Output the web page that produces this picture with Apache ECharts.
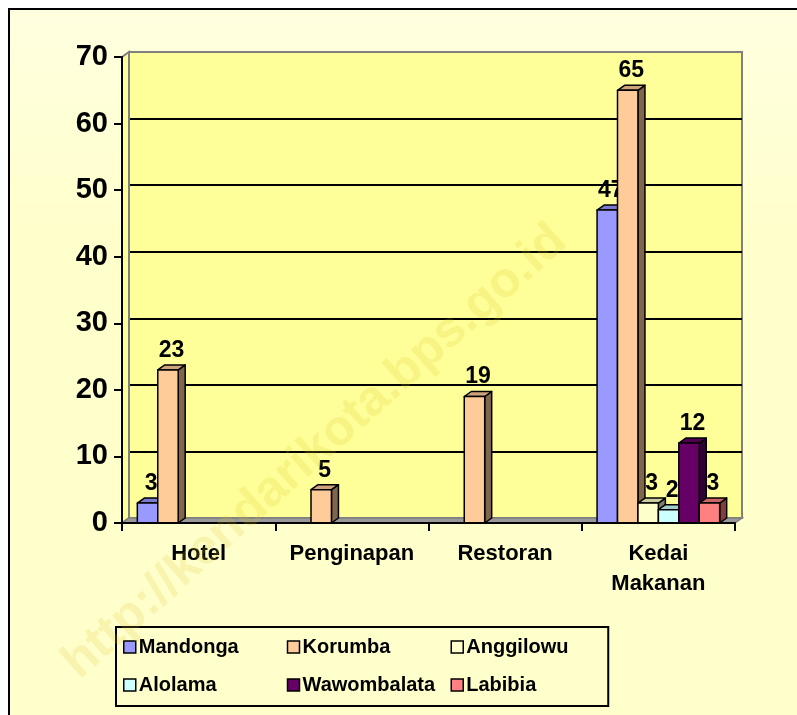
<!DOCTYPE html>
<html>
<head>
<meta charset="utf-8">
<script src="https://cdn.jsdelivr.net/npm/echarts@6/dist/echarts.min.js"></script>
<style>
  html, body { margin: 0; padding: 0; background: #fff; }
  .frame {
    position: absolute; left: 8px; top: 8px; width: 820px; height: 740px;
    border: 2px solid #000;
    background: linear-gradient(#FFFFE0, #FFFFCC 30%);
  }
  #chart { position: absolute; left: 0; top: 0; width: 797px; height: 715px; }
</style>
</head>
<body>
<div class="frame"></div>
<div id="chart"></div>
<script>
// data
var categories = ['Hotel', 'Penginapan', 'Restoran', 'Kedai\nMakanan'];
var seriesNames = ['Mandonga', 'Korumba', 'Anggilowu', 'Alolama', 'Wawombalata', 'Labibia'];
var mandonga    = [3, 0, 0, 47];
var korumba     = [23, 5, 19, 65];
var anggilowu   = [0, 0, 0, 3];
var alolama     = [0, 0, 0, 2];
var wawombalata = [0, 0, 0, 12];
var labibia     = [0, 0, 0, 3];
var yTicks = [0, 10, 20, 30, 40, 50, 60, 70];

var seriesValues = [mandonga, korumba, anggilowu, alolama, wawombalata, labibia];
var colors = ['#9999FF', '#FFCC99', '#FFFFCC', '#CCFFFF', '#660066', '#FF8080'];

var DX = 7, DY = 5;   // fake depth
var FONT = '"Liberation Sans", Arial, sans-serif';

function shade(hex, k) {
  var n = parseInt(hex.slice(1), 16);
  var r = Math.round(((n >> 16) & 255) * k);
  var g = Math.round(((n >> 8) & 255) * k);
  var b = Math.round((n & 255) * k);
  return 'rgb(' + r + ',' + g + ',' + b + ')';
}

// 3d-ish bar, drawn from the axis scales
function makeBar(idx) {
  return function (params, api) {
    var val = api.value(1);
    if (!val) return;
    var base = api.coord([api.value(0), 0]);
    var top = api.coord([api.value(0), val]);
    var catW = api.size([1, 0])[0];
    var bw = catW * 0.8 / seriesNames.length;
    var x = base[0] - catW * 0.4 + idx * bw;
    var y0 = base[1], y1 = top[1];
    var c = colors[idx];
    var line = { stroke: '#000', lineWidth: 1.5, lineJoin: 'round' };
    return {
      type: 'group',
      children: [
        { type: 'polygon', shape: { points: [[x + bw, y1], [x + bw + DX, y1 - DY], [x + bw + DX, y0 - DY], [x + bw, y0]] },
          style: Object.assign({ fill: shade(c, 0.5) }, line) },
        { type: 'polygon', shape: { points: [[x, y1], [x + DX, y1 - DY], [x + bw + DX, y1 - DY], [x + bw, y1]] },
          style: Object.assign({ fill: shade(c, 0.8) }, line) },
        { type: 'rect', shape: { x: x, y: y1, width: bw, height: y0 - y1 },
          style: Object.assign({ fill: c }, line) },
        { type: 'text', x: x + bw / 2 + DX / 2, y: y1 - DY - 3,
          style: { text: String(val), fill: '#000', font: 'bold 23px ' + FONT, align: 'center', verticalAlign: 'bottom' } }
      ]
    };
  };
}

// floor and left wall
function renderWalls(params, api) {
  var cs = params.coordSys;
  var x = cs.x, y = cs.y, w = cs.width, h = cs.height;
  return {
    type: 'group',
    children: [
      { type: 'polygon', shape: { points: [[x, y], [x + DX, y - DY], [x + DX, y + h - DY], [x, y + h]] },
        style: { fill: '#FFFF99', stroke: '#808080', lineWidth: 2 } },
      { type: 'polygon', shape: { points: [[x, y + h], [x + DX, y + h - DY], [x + w + DX, y + h - DY], [x + w, y + h]] },
        style: { fill: '#999999', stroke: '#808080', lineWidth: 1.5 } }
    ]
  };
}

var series = [{
  type: 'custom', name: 'walls', xAxisIndex: 0, yAxisIndex: 0, silent: true, z: 1,
  renderItem: renderWalls, data: [[0, 0]]
}];
seriesNames.forEach(function (name, i) {
  series.push({
    type: 'custom', name: name, xAxisIndex: 0, yAxisIndex: 0, z: 3,
    itemStyle: { color: colors[i] },
    encode: { x: 0, y: 1 },
    renderItem: makeBar(i),
    data: seriesValues[i].map(function (v, c) { return [c, v]; })
  });
});

var myChart = echarts.init(document.getElementById('chart'));
myChart.setOption({
  backgroundColor: 'transparent',
  animation: false,
  textStyle: { fontFamily: FONT },
  graphic: [{
    type: 'text', x: 315, y: 452, rotation: Math.PI * 41.7 / 180, z: 100, silent: true,
    style: { text: 'http://kendarikota.bps.go.id', font: 'bold 50px ' + FONT,
             fill: 'rgba(215,195,40,0.18)', align: 'center', verticalAlign: 'middle' }
  }],
  legend: {
    data: seriesNames,
    left: 116, top: 627, width: 500,
    orient: 'horizontal',
    padding: [6, 4, 7, 7],
    borderColor: '#000', borderWidth: 2,
    itemWidth: 12, itemHeight: 12, itemGap: 10,
    icon: 'rect',
    itemStyle: { borderColor: '#000', borderWidth: 1.5 },
    textStyle: { fontSize: 20, fontWeight: 'bold', color: '#000', width: 138, lineHeight: 28, padding: [0, 0, 0, -2] }
  },
  grid: [
    { left: 122, top: 57, right: 62, bottom: 192 },
    { left: 129, top: 52, right: 55, bottom: 197, show: true, backgroundColor: '#FFFF99', borderColor: '#808080', borderWidth: 2, z: 0 }
  ],
  xAxis: [
    { type: 'category', gridIndex: 0, data: categories, boundaryGap: true, z: 5,
      axisLine: { lineStyle: { color: '#000', width: 2 } },
      axisTick: { show: true, length: 8, alignWithLabel: false, lineStyle: { color: '#000', width: 2 } },
      axisLabel: { color: '#000', fontSize: 22, fontWeight: 'bold', margin: 16, lineHeight: 30, interval: 0 } },
    { type: 'category', gridIndex: 1, data: categories, show: false }
  ],
  yAxis: [
    { type: 'value', gridIndex: 0, min: 0, max: 70, interval: 10, z: 5,
      axisLine: { show: true, lineStyle: { color: '#000', width: 2 } },
      axisTick: { show: true, length: 8, lineStyle: { color: '#000', width: 2 } },
      splitLine: { show: false },
      axisLabel: { color: '#000', fontSize: 29, fontWeight: 'bold', margin: 14,
        formatter: function (v) { return yTicks.indexOf(v) >= 0 ? String(v) : ''; } } },
    { type: 'value', gridIndex: 1, min: 0, max: 70, interval: 10,
      axisLine: { show: false }, axisTick: { show: false }, axisLabel: { show: false },
      splitLine: { show: true, showMinLine: false, showMaxLine: false, lineStyle: { color: '#000', width: 2 } } }
  ],
  series: series
});
window.addEventListener('resize', function () { myChart.resize(); });
</script>
</body>
</html>
